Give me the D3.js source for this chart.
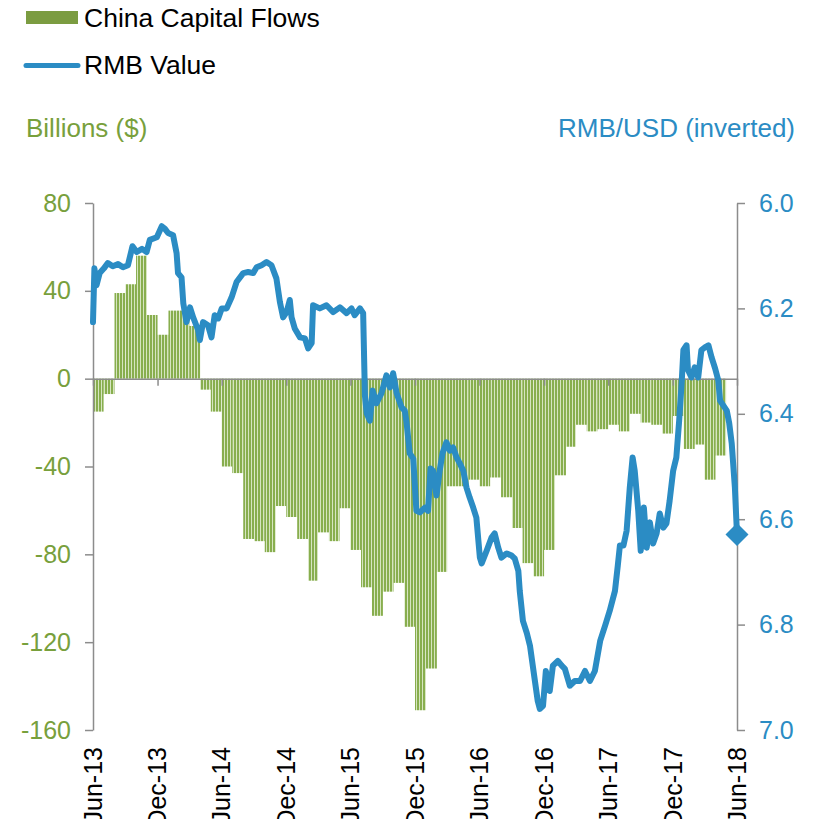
<!DOCTYPE html>
<html>
<head>
<meta charset="utf-8">
<script src="https://cdn.jsdelivr.net/npm/d3@7"></script>
<style>
  body { margin: 0; background: #fff; }
  svg { display: block; font-family: "Liberation Sans", Arial, sans-serif; }
</style>
</head>
<body>
<svg id="chart" width="815" height="819"></svg>
<script>
// monthly capital flows, billions of dollars
const flowMonths = [
  "2013-06","2013-07","2013-08","2013-09","2013-10","2013-11","2013-12",
  "2014-01","2014-02","2014-03","2014-04","2014-05","2014-06","2014-07","2014-08","2014-09","2014-10","2014-11","2014-12",
  "2015-01","2015-02","2015-03","2015-04","2015-05","2015-06","2015-07","2015-08","2015-09","2015-10","2015-11","2015-12",
  "2016-01","2016-02","2016-03","2016-04","2016-05","2016-06","2016-07","2016-08","2016-09","2016-10","2016-11","2016-12",
  "2017-01","2017-02","2017-03","2017-04","2017-05","2017-06","2017-07","2017-08","2017-09","2017-10","2017-11","2017-12",
  "2018-01","2018-02","2018-03","2018-04"
];
const flowValues = [
  -15, -7, 39, 43, 56, 29, 20,
  31, 31, 24, -5, -15, -40, -43, -73, -74, -79, -58, -63,
  -73, -92, -70, -74, -59, -78, -95, -108, -97, -93, -113, -151,
  -132, -88, -49, -49, -46, -49, -45, -54, -68, -84, -90, -78,
  -44, -31, -21, -24, -23, -21, -24, -16, -20, -21, -25, -17,
  -32, -30, -46, -35
];

// RMB per USD
const rmbDates = [
  "2013-06-01","2013-06-05","2013-06-11","2013-06-20","2013-07-02","2013-07-13","2013-07-27","2013-08-11","2013-08-25","2013-09-08",
  "2013-09-21","2013-10-03","2013-10-18","2013-10-31","2013-11-09","2013-11-29","2013-12-13","2013-12-22","2013-12-31","2014-01-14",
  "2014-01-24","2014-01-28","2014-02-07","2014-02-12","2014-02-21","2014-03-03","2014-03-12","2014-03-26","2014-03-31","2014-04-09",
  "2014-04-23","2014-05-03","2014-05-12","2014-05-22","2014-06-01","2014-06-15","2014-06-29","2014-07-13","2014-08-01","2014-08-15",
  "2014-08-29","2014-09-08","2014-09-22","2014-10-06","2014-10-20","2014-11-03","2014-11-13","2014-11-22","2014-12-02","2014-12-11",
  "2014-12-16","2014-12-25","2015-01-09","2015-01-23","2015-02-01","2015-02-11","2015-02-15","2015-03-06","2015-03-25","2015-04-13",
  "2015-05-02","2015-05-21","2015-06-04","2015-06-13","2015-06-28","2015-07-07","2015-07-12","2015-07-17","2015-07-26","2015-08-03",
  "2015-08-14","2015-08-28","2015-09-11","2015-09-21","2015-09-30","2015-10-10","2015-10-24","2015-11-02","2015-11-07","2015-11-16",
  "2015-11-26","2015-12-05","2015-12-15","2015-12-29","2016-01-07","2016-01-14","2016-01-21","2016-01-31","2016-02-09","2016-02-17",
  "2016-02-28","2016-03-09","2016-03-18","2016-03-28","2016-04-06","2016-04-16","2016-04-25","2016-05-04","2016-05-14","2016-05-23",
  "2016-06-02","2016-06-07","2016-06-21","2016-07-05","2016-07-14","2016-07-24","2016-08-02","2016-08-17","2016-08-31","2016-09-09",
  "2016-09-19","2016-09-23","2016-10-02","2016-10-13","2016-10-22","2016-11-05","2016-11-13","2016-11-19","2016-11-28","2016-12-06",
  "2016-12-17","2016-12-26","2017-01-09","2017-01-20","2017-01-29","2017-02-12","2017-02-26","2017-03-13","2017-03-27","2017-04-10",
  "2017-04-24","2017-05-09","2017-05-23","2017-06-05","2017-06-20","2017-06-28","2017-07-04","2017-07-14","2017-07-23","2017-08-01",
  "2017-08-09","2017-08-15","2017-08-25","2017-09-01","2017-09-10","2017-09-18","2017-09-27","2017-10-06","2017-10-16","2017-10-25",
  "2017-11-04","2017-11-13","2017-11-22","2017-12-02","2017-12-11","2017-12-19","2017-12-26","2017-12-31","2018-01-09","2018-01-13",
  "2018-01-23","2018-02-01","2018-02-11","2018-02-20","2018-03-02","2018-03-12","2018-03-21","2018-03-31","2018-04-09","2018-04-14",
  "2018-05-03","2018-05-10","2018-05-17","2018-05-26","2018-06-01"
];
const rmbValues = [
  6.226, 6.124, 6.156, 6.133, 6.124, 6.114, 6.120, 6.116, 6.122, 6.118,
  6.082, 6.093, 6.087, 6.093, 6.070, 6.065, 6.044, 6.049, 6.057, 6.061,
  6.095, 6.133, 6.141, 6.190, 6.226, 6.198, 6.217, 6.241, 6.260, 6.226,
  6.232, 6.255, 6.213, 6.219, 6.200, 6.200, 6.179, 6.150, 6.133, 6.131,
  6.133, 6.122, 6.118, 6.112, 6.118, 6.143, 6.188, 6.217, 6.207, 6.184,
  6.217, 6.238, 6.255, 6.257, 6.276, 6.266, 6.194, 6.200, 6.194, 6.207,
  6.198, 6.209, 6.200, 6.213, 6.200, 6.209, 6.365, 6.399, 6.413, 6.356,
  6.380, 6.361, 6.327, 6.350, 6.323, 6.361, 6.388, 6.394, 6.416, 6.475,
  6.485, 6.584, 6.587, 6.578, 6.584, 6.504, 6.508, 6.555, 6.508, 6.475,
  6.454, 6.470, 6.464, 6.483, 6.494, 6.508, 6.540, 6.559, 6.578, 6.597,
  6.673, 6.684, 6.660, 6.635, 6.627, 6.654, 6.673, 6.665, 6.669, 6.675,
  6.698, 6.736, 6.793, 6.816, 6.840, 6.907, 6.945, 6.960, 6.954, 6.888,
  6.926, 6.878, 6.869, 6.878, 6.884, 6.916, 6.907, 6.907, 6.888, 6.907,
  6.888, 6.831, 6.802, 6.774, 6.736, 6.688, 6.650, 6.650, 6.622, 6.540,
  6.483, 6.508, 6.584, 6.660, 6.578, 6.654, 6.606, 6.646, 6.627, 6.589,
  6.616, 6.608, 6.565, 6.508, 6.483, 6.413, 6.342, 6.279, 6.270, 6.317,
  6.331, 6.312, 6.331, 6.279, 6.274, 6.270, 6.293, 6.314, 6.337, 6.375,
  6.394, 6.418, 6.456, 6.540, 6.629
];

const leftTicks = [-160, -120, -80, -40, 0, 40, 80];
const rightTicks = [6.0, 6.2, 6.4, 6.6, 6.8, 7.0];
const xTickLabels = ["Jun-13","Dec-13","Jun-14","Dec-14","Jun-15","Dec-15","Jun-16","Dec-16","Jun-17","Dec-17","Jun-18"];

const green = "#78a03c", blue = "#2b8cc4", grey = "#8c8c8c";
const font = '"Liberation Sans", Arial, sans-serif';

const svg = d3.select("#chart");
const plotLeft = 93, plotRight = 737, plotTop = 203, plotBottom = 730;

const parseDay = d3.timeParse("%Y-%m-%d");
const parseMonth = d3.timeParse("%Y-%m");
const parseTick = d3.timeParse("%b-%y");

const x = d3.scaleTime()
  .domain([parseMonth("2013-06"), parseMonth("2018-06")])
  .range([plotLeft, plotRight]);
const yL = d3.scaleLinear().domain([-160, 80]).range([plotBottom, plotTop]);
const yR = d3.scaleLinear().domain([6.0, 7.0]).range([plotTop, plotBottom]);

// striped fill like the original bars
const pat = svg.append("defs").append("pattern")
  .attr("id", "stripes")
  .attr("patternUnits", "userSpaceOnUse")
  .attr("width", 3).attr("height", 10);
pat.append("rect").attr("width", 3).attr("height", 10).attr("fill", "#88ae4e");
pat.append("rect").attr("x", 2).attr("width", 1).attr("height", 10).attr("fill", "#d6e5c0");

// bars
svg.append("g").selectAll("rect")
  .data(flowValues)
  .join("rect")
  .attr("x", (d, i) => x(parseMonth(flowMonths[i])))
  .attr("width", (d, i) => {
    const m = parseMonth(flowMonths[i]);
    return x(d3.timeMonth.offset(m, 1)) - x(m);
  })
  .attr("y", d => yL(Math.max(0, d)))
  .attr("height", d => Math.abs(yL(d) - yL(0)))
  .attr("fill", "url(#stripes)");

function styleAxis(g, color) {
  g.attr("font-family", font).attr("font-size", 25);
  g.select(".domain").attr("stroke", grey).attr("stroke-width", 1.5);
  g.selectAll(".tick line").attr("stroke", grey).attr("stroke-width", 1.5);
  g.selectAll(".tick text").attr("fill", color);
}

// x axis along zero
svg.append("g")
  .attr("transform", `translate(0,${yL(0)})`)
  .call(d3.axisBottom(x)
    .tickValues(xTickLabels.map(parseTick))
    .tickSize(7).tickSizeOuter(0).tickFormat(""))
  .call(g => styleAxis(g, "#000"));

// left axis
svg.append("g")
  .attr("transform", `translate(${plotLeft},0)`)
  .call(d3.axisLeft(yL).tickValues(leftTicks)
    .tickSize(8).tickSizeOuter(0).tickPadding(14)
    .tickFormat(d => String(d)))
  .call(g => styleAxis(g, green));

// right axis
svg.append("g")
  .attr("transform", `translate(${plotRight},0)`)
  .call(d3.axisRight(yR).tickValues(rightTicks)
    .tickSize(8).tickSizeOuter(0).tickPadding(14)
    .tickFormat(d3.format(".1f")))
  .call(g => styleAxis(g, blue));

// rotated date labels at the bottom
svg.append("g").selectAll("text")
  .data(xTickLabels)
  .join("text")
  .attr("transform", d => `translate(${x(parseTick(d))},747) rotate(-90)`)
  .attr("text-anchor", "end")
  .attr("dy", "0.35em")
  .attr("font-family", font)
  .attr("font-size", 25)
  .attr("fill", "#000")
  .text(d => d);

// RMB line
const rmb = rmbDates.map((d, i) => ({ date: parseDay(d), value: rmbValues[i] }));
const line = d3.line().x(d => x(d.date)).y(d => yR(d.value));

svg.append("path")
  .datum(rmb)
  .attr("d", line)
  .attr("fill", "none")
  .attr("stroke", blue)
  .attr("stroke-width", 6)
  .attr("stroke-linejoin", "round")
  .attr("stroke-linecap", "round");

const last = rmb[rmb.length - 1];
svg.append("path")
  .attr("d", d3.symbol().type(d3.symbolSquare).size(265)())
  .attr("transform", `translate(${x(last.date)},${yR(last.value)}) rotate(45)`)
  .attr("fill", blue);

// legend
const legend = svg.append("g").attr("font-family", font).attr("font-size", 26.5).attr("fill", "#000");
legend.append("rect").attr("x", 26).attr("y", 11).attr("width", 52).attr("height", 13).attr("fill", "#7b9c41");
legend.append("text").attr("x", 84).attr("y", 27).text("China Capital Flows");
legend.append("line").attr("x1", 26).attr("x2", 78).attr("y1", 65.5).attr("y2", 65.5)
  .attr("stroke", blue).attr("stroke-width", 5).attr("stroke-linecap", "round");
legend.append("text").attr("x", 84).attr("y", 74).text("RMB Value");

// axis titles
svg.append("text").attr("x", 26).attr("y", 137)
  .attr("font-family", font).attr("font-size", 26).attr("fill", green)
  .text("Billions ($)");
svg.append("text").attr("x", 795).attr("y", 137)
  .attr("text-anchor", "end")
  .attr("font-family", font).attr("font-size", 26).attr("fill", blue)
  .text("RMB/USD (inverted)");
</script>
</body>
</html>
